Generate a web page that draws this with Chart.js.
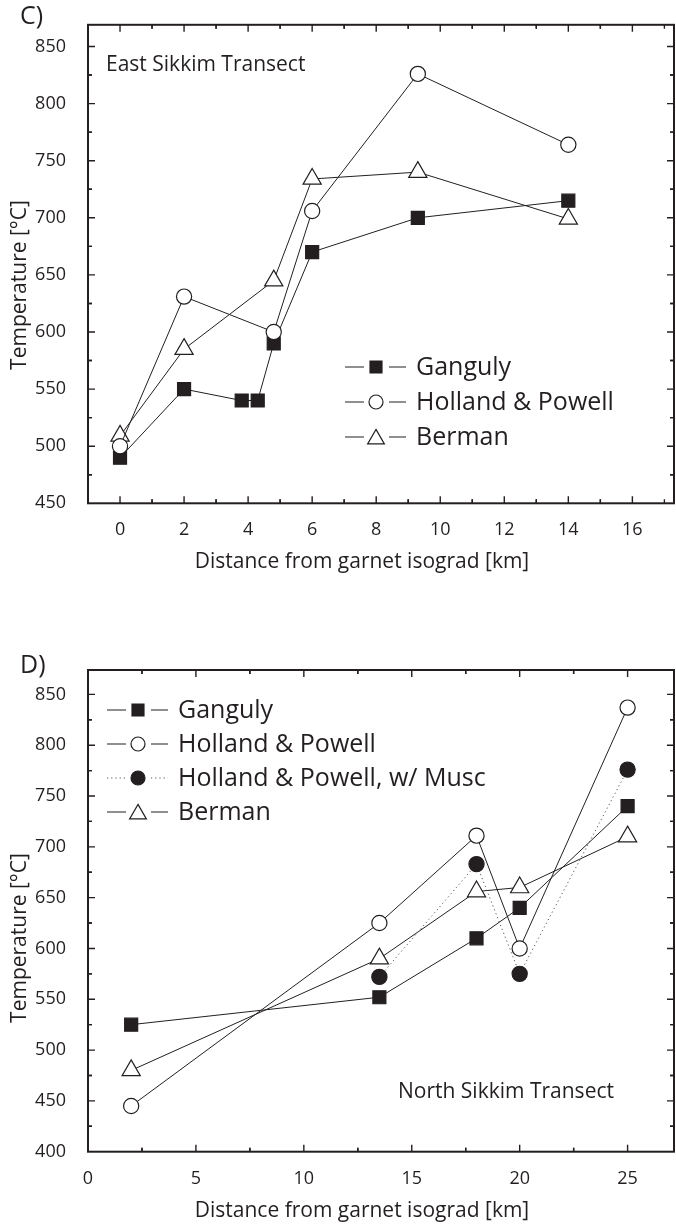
<!DOCTYPE html>
<html lang="en">
<head>
<meta charset="UTF-8">
<title>Garnet isograd thermometry</title>
<script src="https://cdn.jsdelivr.net/npm/chart.js@4"></script>
<style>
    * { margin: 0; padding: 0; box-sizing: border-box; }
    body { background: #fff; width: 676px; height: 1225px; position: relative; overflow: hidden; }
    .panel { position: absolute; left: 0; width: 676px; }
    #panelC { top: 0; }
    #panelD { top: 640px; }
</style>
</head>
<body>
<div class="panel" id="panelC"><canvas id="chartC" width="676" height="600"></canvas></div>
<div class="panel" id="panelD"><canvas id="chartD" width="676" height="585"></canvas></div>

<script>
// East Sikkim transect (panel C)
const eastGangulyX = [0, 2, 3.8, 4.3, 4.8, 6, 9.3, 14];
const eastGangulyT = [490, 550, 540, 540, 590, 670, 700, 715];
const eastHollandX = [0, 2, 4.8, 6, 9.3, 14];
const eastHollandT = [500, 631, 600, 706, 826, 764];
const eastBermanX = [0, 2, 4.8, 6, 9.3, 14];
const eastBermanT = [509, 585, 645, 734, 740, 699];
const eastXTicks = [0, 2, 4, 6, 8, 10, 12, 14, 16];
const eastYTicks = [450, 500, 550, 600, 650, 700, 750, 800, 850];

// North Sikkim transect (panel D)
const northGangulyX = [2, 13.5, 18, 20, 25];
const northGangulyT = [525, 552, 610, 640, 740];
const northHollandX = [2, 13.5, 18, 20, 25];
const northHollandT = [445, 625, 711, 600, 837];
const northMuscX = [13.5, 18, 20, 25];
const northMuscT = [572, 683, 575, 776];
const northBermanX = [2, 13.5, 18, 20, 25];
const northBermanT = [480, 590, 656, 660, 710];
const northXTicks = [0, 5, 10, 15, 20, 25];
const northYTicks = [400, 450, 500, 550, 600, 650, 700, 750, 800, 850];

const seriesNames = ['Ganguly', 'Holland & Powell', 'Holland & Powell, w/ Musc', 'Berman'];

const INK = '#231f20';
const FONT = "'Open Sans', sans-serif";

function series(label, xs, ys, style, filled, dotted, order) {
    return {
        label: label,
        data: xs.map((x, i) => ({ x: x, y: ys[i] })),
        showLine: true,
        order: order,
        borderColor: dotted ? '#555' : INK,
        borderWidth: 1,
        borderDash: dotted ? [1.2, 3] : [],
        pointStyle: style,
        pointRadius: style === 'rect' ? 9.2 : (style === 'triangle' ? 10.5 : 7.6),
        pointBorderWidth: 1.2,
        pointBorderColor: INK,
        pointBackgroundColor: filled ? INK : '#fff',
        tension: 0
    };
}

function drawMarker(ctx, style, x, y, r, fill) {
    ctx.beginPath();
    if (style === 'rect') {
        const s = r * Math.SQRT1_2;
        ctx.rect(x - s, y - s, 2 * s, 2 * s);
    } else if (style === 'triangle') {
        ctx.moveTo(x, y - r);
        ctx.lineTo(x + r * 0.866, y + r * 0.5);
        ctx.lineTo(x - r * 0.866, y + r * 0.5);
        ctx.closePath();
    } else {
        ctx.arc(x, y, r, 0, Math.PI * 2);
    }
    ctx.fillStyle = fill;
    ctx.fill();
    ctx.stroke();
}

// frame, inward ticks, legend and texts
const panelDecor = {
    id: 'panelDecor',
    afterDraw(chart, args, o) {
        const ctx = chart.ctx;
        const a = chart.chartArea;
        const xs = chart.scales.x, ys = chart.scales.y;
        ctx.save();
        ctx.strokeStyle = INK;
        ctx.lineWidth = 2;
        ctx.strokeRect(a.left, a.top, a.right - a.left, a.bottom - a.top);

        // ticks on all four sides, pointing inward
        ctx.lineWidth = 1.4;
        const tick = (v, len, horiz) => {
            ctx.beginPath();
            if (horiz) {
                const p = xs.getPixelForValue(v);
                if (p <= a.left + 1 || p >= a.right - 1) return;
                ctx.moveTo(p, a.bottom); ctx.lineTo(p, a.bottom - len);
                ctx.moveTo(p, a.top); ctx.lineTo(p, a.top + len);
            } else {
                const p = ys.getPixelForValue(v);
                if (p <= a.top + 1 || p >= a.bottom - 1) return;
                ctx.moveTo(a.left, p); ctx.lineTo(a.left + len, p);
                ctx.moveTo(a.right, p); ctx.lineTo(a.right - len, p);
            }
            ctx.stroke();
        };
        const xStep = o.xTicks[1] - o.xTicks[0];
        const yStep = o.yTicks[1] - o.yTicks[0];
        o.xTicks.forEach(v => { tick(v, 7, true); tick(v - xStep / 2, 4, true); tick(v + xStep / 2, 4, true); });
        o.yTicks.forEach(v => { tick(v, 7, false); tick(v - yStep / 2, 4, false); tick(v + yStep / 2, 4, false); });

        // legend: line - marker - line, then name
        ctx.textBaseline = 'middle';
        ctx.textAlign = 'left';
        ctx.font = '25px ' + FONT;
        chart.data.datasets.forEach((ds, i) => {
            const y = o.legendY + i * o.legendGap;
            const x = o.legendX;
            ctx.strokeStyle = ds.borderColor;
            ctx.lineWidth = 1;
            ctx.setLineDash(ds.borderDash);
            ctx.beginPath();
            ctx.moveTo(x, y); ctx.lineTo(x + 19, y);
            ctx.moveTo(x + 44, y); ctx.lineTo(x + 61, y);
            ctx.stroke();
            ctx.setLineDash([]);
            ctx.strokeStyle = INK;
            ctx.lineWidth = 1.2;
            drawMarker(ctx, ds.pointStyle, x + 31, y + (ds.pointStyle === 'triangle' ? 2 : 0),
                ds.pointRadius * 0.92, ds.pointBackgroundColor);
            ctx.fillStyle = INK;
            ctx.fillText(ds.label, x + 71, y + 1);
        });

        // panel letter and transect name
        ctx.fillStyle = INK;
        ctx.font = '25px ' + FONT;
        ctx.fillText(o.letter, 20, o.letterY);
        ctx.font = '21px ' + FONT;
        ctx.fillText(o.note, o.noteX, o.noteY);

        // axis titles
        ctx.textAlign = 'center';
        ctx.fillText('Distance from garnet isograd [km]', 362, o.xTitleY);
        ctx.translate(20, o.yTitleY);
        ctx.rotate(-Math.PI / 2);
        ctx.fillText('Temperature [°C]', 0, 0);
        ctx.restore();
    }
};

function scaleOptions(c) {
    const tickFont = { family: FONT, size: 18 };
    return {
        x: {
            type: 'linear', min: c.xMin, max: c.xMax,
            afterBuildTicks: s => { s.ticks = c.xTicks.map(v => ({ value: v })); },
            afterFit: s => { s.height = c.xHeight; },
            grid: { display: false },
            border: { display: false },
            ticks: { padding: 8, color: INK, font: tickFont, maxRotation: 0, autoSkip: false }
        },
        y: {
            type: 'linear', min: c.yMin, max: c.yMax,
            afterBuildTicks: s => { s.ticks = c.yTicks.map(v => ({ value: v })); },
            afterFit: s => { s.width = 88; },
            grid: { display: false },
            border: { display: false },
            ticks: { padding: 14, color: INK, font: tickFont, autoSkip: false }
        }
    };
}

new Chart(document.getElementById('chartC'), {
    type: 'scatter',
    data: {
        datasets: [
            series(seriesNames[0], eastGangulyX, eastGangulyT, 'rect', true, false, 2),
            series(seriesNames[1], eastHollandX, eastHollandT, 'circle', false, false, 0),
            series(seriesNames[3], eastBermanX, eastBermanT, 'triangle', false, false, 1)
        ]
    },
    options: {
        responsive: false,
        animation: false,
        layout: { autoPadding: false, padding: { top: 22, right: 2, left: 0, bottom: 0 } },
        plugins: {
            legend: { display: false },
            tooltip: { enabled: false },
            panelDecor: {
                xTicks: eastXTicks, yTicks: eastYTicks,
                legendX: 345, legendY: 367, legendGap: 35,
                letter: 'C)', letterY: 17,
                note: 'East Sikkim Transect', noteX: 106, noteY: 65,
                xTitleY: 562, yTitleY: 285
            }
        },
        scales: scaleOptions({
            xMin: -1, xMax: 17.3, yMin: 450, yMax: 869,
            xTicks: eastXTicks, yTicks: eastYTicks, xHeight: 96.7
        })
    },
    plugins: [panelDecor]
});

new Chart(document.getElementById('chartD'), {
    type: 'scatter',
    data: {
        datasets: [
            series(seriesNames[0], northGangulyX, northGangulyT, 'rect', true, false, 3),
            series(seriesNames[1], northHollandX, northHollandT, 'circle', false, false, 0),
            series(seriesNames[2], northMuscX, northMuscT, 'circle', true, true, 1),
            series(seriesNames[3], northBermanX, northBermanT, 'triangle', false, false, 2)
        ]
    },
    options: {
        responsive: false,
        animation: false,
        layout: { autoPadding: false, padding: { top: 30, right: 2, left: 0, bottom: 0 } },
        plugins: {
            legend: { display: false },
            tooltip: { enabled: false },
            panelDecor: {
                xTicks: northXTicks, yTicks: northYTicks,
                legendX: 107, legendY: 70, legendGap: 34,
                letter: 'D)', letterY: 26,
                note: 'North Sikkim Transect', noteX: 398, noteY: 452,
                xTitleY: 571, yTitleY: 298
            }
        },
        scales: scaleOptions({
            xMin: 0, xMax: 27.15, yMin: 400, yMax: 874,
            xTicks: northXTicks, yTicks: northYTicks, xHeight: 73.3
        })
    },
    plugins: [panelDecor]
});
</script>
</body>
</html>
